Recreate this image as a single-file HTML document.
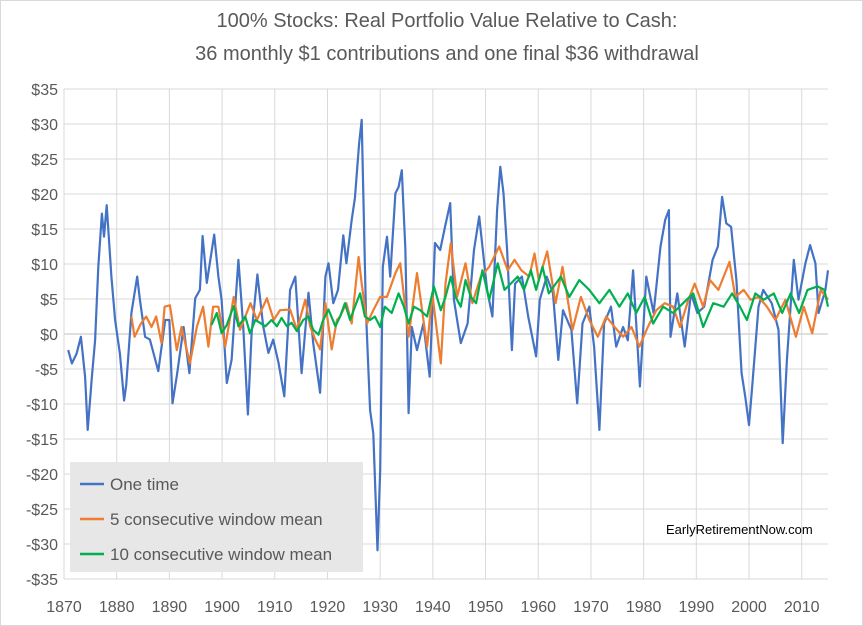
<!DOCTYPE html>
<html><head><meta charset="utf-8">
<style>
html,body{margin:0;padding:0;background:#fff;}
svg{display:block;font-family:"Liberation Sans",Calibri,sans-serif;}
</style></head>
<body>
<svg id="chart" width="863" height="626" viewBox="0 0 863 626">
<rect x="0.5" y="0.5" width="862" height="625" fill="#fff" stroke="#d9d9d9"/>
<text x="447" y="27" text-anchor="middle" font-size="20" fill="#595959">100% Stocks: Real Portfolio Value Relative to Cash:</text>
<text x="447" y="60" text-anchor="middle" font-size="20" fill="#595959">36 monthly $1 contributions and one final $36 withdrawal</text>
<g id="grid"></g>
<g id="yticks"></g>
<g id="xticks"></g>
<g id="series"></g>
<g>
<rect x="70" y="462" width="293" height="110" fill="#e7e7e7"/>
<line x1="80" y1="484" x2="104" y2="484" stroke="#4472c4" stroke-width="2.5"/>
<text x="110" y="490" font-size="17" fill="#595959">One time</text>
<line x1="80" y1="519" x2="104" y2="519" stroke="#ed7d31" stroke-width="2.5"/>
<text x="110" y="525" font-size="17" fill="#595959">5 consecutive window mean</text>
<line x1="80" y1="554" x2="104" y2="554" stroke="#00b050" stroke-width="2.5"/>
<text x="110" y="560" font-size="17" fill="#595959">10 consecutive window mean</text>
</g>
<text x="666" y="534" font-size="13" fill="#000">EarlyRetirementNow.com</text>
</svg>
<script>
const yTicks=[35,30,25,20,15,10,5,0,-5,-10,-15,-20,-25,-30,-35];
const xTicks=[1870,1880,1890,1900,1910,1920,1930,1940,1950,1960,1970,1980,1990,2000,2010];
const blueYears=[1870.8,1871.5,1872.4,1873.2,1874,1874.5,1875.3,1875.9,1876.5,1877.2,1877.6,1878.1,1879,1879.7,1880.6,1881.4,1881.8,1882.8,1883.9,1884.4,1885.4,1886.3,1887.9,1889.2,1890,1890.6,1891.4,1892.7,1893.8,1894.9,1895.8,1896.3,1897.1,1898.5,1899.3,1899.9,1900.9,1901.8,1903.1,1904,1904.9,1905.6,1906.7,1907.8,1908.8,1909.7,1910.7,1911.8,1912.9,1913.9,1915.1,1916.4,1917.3,1918.6,1919.6,1920.2,1921.1,1922,1923,1923.6,1924.6,1925.2,1926,1926.5,1926.8,1927.3,1928.1,1928.7,1929.5,1930,1930.5,1931.3,1931.9,1932.9,1933.5,1934.1,1934.8,1935.4,1936,1937,1938.2,1939.4,1940.4,1941.4,1942.3,1943.3,1944,1945.3,1946.6,1947.8,1948.8,1950.3,1951.3,1952.2,1952.8,1953.4,1954.1,1955,1955.6,1956.9,1958.1,1959.6,1960.3,1961.6,1962.8,1963.8,1964.7,1966.3,1967.4,1968.4,1969.7,1970.6,1971.6,1972.5,1973.8,1974.8,1976.1,1977,1978,1979.3,1980.5,1981.9,1983.2,1984.1,1984.8,1985.1,1986.4,1987.8,1989,1990.2,1991.5,1993.1,1994.1,1994.9,1995.7,1996.6,1997.6,1998.6,1999.3,2000,2000.6,2001.8,2002.7,2004.3,2005.6,2006.4,2007.2,2008.5,2009.4,2010.7,2011.6,2012.6,2013.2,2014.5,2015];
const blueValues=[-2.3,-4.2,-2.8,-0.4,-6.1,-13.7,-6.1,-0.9,9.6,17.2,13.9,18.4,8.2,2,-2.8,-9.5,-7.3,3,8.2,4.9,-0.4,-0.8,-5.3,2,2,-9.9,-6,1,-5.6,5.1,6.3,14,7.3,14.2,8.2,4.9,-7,-3.7,10.6,1.1,-11.5,0.1,8.5,1.1,-2.7,-0.8,-4.1,-8.9,6.3,8.2,-5.6,5.9,-1.3,-8.4,8.2,10.1,4.4,6.3,14.1,10.1,16.3,19.4,27.2,30.6,20.1,3.4,-10.9,-14.2,-30.9,-19.4,9.6,13.9,8.2,20.1,21,23.4,12,-11.3,1,-2.3,1.5,-6.1,13,12,15.3,18.7,4.9,-1.3,1.5,12,16.8,6.3,2.5,17.7,23.9,20.1,12,-2.3,7.2,8.2,2.5,-3.2,4.9,8.2,5.8,-3.7,3.4,0.6,-9.9,1.5,3.9,-1.8,-13.7,1.5,3.9,-1.8,1,-0.9,9.1,-7.5,8.2,3,12.5,16.3,17.7,-0.4,5.8,-1.8,5.8,3,3.9,10.6,12.5,19.6,15.8,15.3,7.7,-5.6,-9,-13,-7.5,3.9,6.3,4.4,0.6,-15.6,-3.7,10.6,4.9,10.1,12.7,10.1,3,6.3,9.1];
const orangeYears=[1882.8,1883.4,1884.6,1885.6,1886.6,1887.5,1888.5,1889.1,1890.1,1891.4,1892.3,1893.9,1895.2,1896.4,1897.4,1898.3,1899.3,1900.6,1902.2,1903.4,1905.4,1906.6,1908.5,1909.8,1911,1912.9,1914.2,1915.8,1916.7,1917.7,1918.6,1919.6,1920.8,1921.8,1922.4,1923.6,1924.6,1925.9,1926.5,1927.5,1928.7,1930,1931.3,1932.9,1933.8,1935.4,1937,1938.9,1939.9,1941.5,1942.4,1943.4,1944.6,1946.2,1947.5,1949.1,1950.7,1952.6,1954.2,1955.5,1956.8,1958.3,1959.3,1960.1,1961.7,1963.3,1964.6,1966.5,1968.1,1969.7,1971.3,1972.9,1974.5,1976.1,1977.7,1979.2,1980.8,1982.4,1984,1985.6,1986.9,1988.5,1989.7,1991.3,1992.6,1994.2,1996.3,1997.4,1999,2000.3,2001.8,2003.4,2005,2006.9,2008.9,2010.4,2012,2013.6,2015];
const orangeValues=[2.5,-0.4,1.5,2.5,1,2.5,-1.3,3.9,4.1,-2.3,1,-4.2,1,3.9,-1.8,3.9,3.9,-1.8,5.3,0.6,4.4,2,5.1,2,3.4,3.5,0.6,4.9,1.1,-0.8,-2.2,4.4,-2.2,2,2.5,4.4,1.5,11,7.2,1.5,3.4,5.3,5.3,8.7,10.1,-0.4,8.7,-1.8,5.8,-4.2,7.2,13,5.3,10.1,4.4,8.2,9.6,12.5,9.1,10.6,9.1,8.2,11.5,7.7,11.8,4.4,9.6,0.6,5.3,2,-0.4,2.5,1,-0.4,1,-1.8,1,3.4,4.4,3.9,1,4.9,7.2,3.9,7.7,6.3,10.3,5.3,6.3,4.9,5.3,3.9,2,4.9,-0.4,3.9,0.1,6.3,4.9];
const greenYears=[1898,1899,1899.9,1900.9,1902.2,1903.1,1904.4,1905.3,1906.3,1907.2,1908.2,1909.4,1910.4,1911.3,1912.3,1913.2,1914.2,1915.4,1916.4,1917.3,1918.3,1919.2,1920.2,1921.5,1922.4,1923.3,1924.3,1925.2,1926.2,1927.1,1928.1,1929,1930,1930.9,1932.2,1933.5,1934.5,1935.4,1936.4,1937.6,1938.9,1940.2,1941.5,1942.4,1943.4,1944.3,1945.3,1946.2,1947.2,1948.2,1949.4,1950.7,1952.3,1953.6,1954.8,1956.1,1957.3,1958.6,1959.6,1960.8,1962,1964.3,1965.9,1967.8,1969.7,1971.6,1973.5,1975.4,1977,1978.6,1980.2,1981.8,1983.7,1985.6,1987.5,1989.4,1991.3,1993.2,1995.2,1996.8,1998.3,1999.6,2001.2,2002.8,2004.7,2006.3,2007.9,2009.5,2011.1,2013,2014.3,2015];
const greenValues=[1.3,3,0.1,1.3,4,1.1,2.5,0.1,2,1.6,1.1,2,1.1,2.3,1.1,1.6,0.4,2,2.5,0.6,-0.1,2,3.5,1.1,2.5,4.4,2,3.9,5.8,2.5,2,2.5,1,3.9,3,5.8,3.9,1.5,3.9,3.4,2.5,6.8,3.4,5.3,8.2,5.3,3.9,7.7,5.3,4.4,9.1,4.9,10.1,6.3,7.2,8.2,6.3,9.1,6.3,9.6,5.8,8.2,5.3,7.7,6.3,4.4,6.3,3.9,5.8,3,5.3,1.5,3.9,3,4.4,5.8,1,4.4,3.9,5.8,3.9,2,5.8,4.9,5.8,3,5.8,3,6.3,6.8,6.3,3.9];

const X0=64,X1=828,Y0=89,Y1=579;
function xs(yr){return X0+(yr-1870)*(801.7-64)/140;}
function ys(v){return 334-v*7;}
const NS='http://www.w3.org/2000/svg';
function mk(tag,attrs,parent){const e=document.createElementNS(NS,tag);for(const k in attrs)e.setAttribute(k,attrs[k]);parent.appendChild(e);return e;}
const grid=document.getElementById('grid'),yt=document.getElementById('yticks'),xt=document.getElementById('xticks'),ser=document.getElementById('series');
yTicks.forEach(v=>{
  const l=mk('line',{x1:X0,x2:X1,y1:ys(v),y2:ys(v),stroke:v===0?'#bfbfbf':'#d9d9d9','stroke-width':1},grid);
  
  
  const t=mk('text',{x:58,y:ys(v)+6,'text-anchor':'end','font-size':16,fill:'#595959'},yt);
  
  
  t.textContent=(v<0?'-$':'$')+Math.abs(v);
});
xTicks.forEach(yr=>{
  const l=mk('line',{x1:xs(yr),x2:xs(yr),y1:Y0,y2:Y1,stroke:'#d9d9d9','stroke-width':1},grid);
  
  
  const t=mk('text',{x:xs(yr),y:612,'text-anchor':'middle','font-size':16,fill:'#595959'},xt);
  
  
  t.textContent=yr;
});
function draw(yrs,vals,color,name){
  const d=yrs.map((y,i)=>(i?'L':'M')+xs(y).toFixed(1)+','+ys(vals[i]).toFixed(1)).join('');
  const p=mk('path',{d:d,fill:'none',stroke:color,'stroke-width':2.2,'stroke-linejoin':'round'},ser);
  
  
}
draw(blueYears,blueValues,'#4472c4','one-time-line');
draw(orangeYears,orangeValues,'#ed7d31','five-window-mean-line');
draw(greenYears,greenValues,'#00b050','ten-window-mean-line');
</script>
</body></html>
